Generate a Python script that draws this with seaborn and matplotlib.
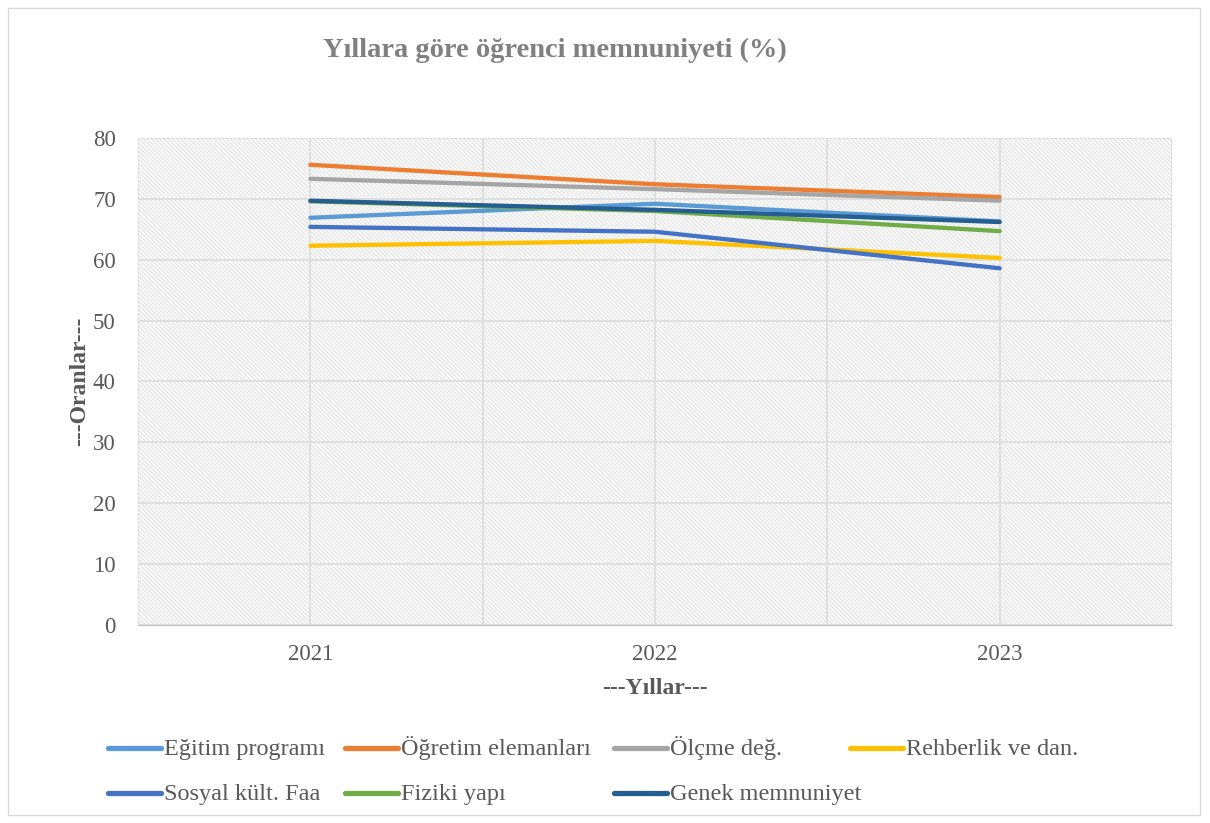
import pandas as pd
import matplotlib.pyplot as plt
import seaborn as sns
from matplotlib.patches import Rectangle
from matplotlib.lines import Line2D

# Data
years = [2021, 2022, 2023]
egitim_programi = [66.9, 69.2, 66.3]
ogretim_elemanlari = [75.6, 72.4, 70.3]
olcme_deg = [73.3, 71.6, 69.7]
rehberlik = [62.3, 63.1, 60.3]
sosyal_kult = [65.4, 64.6, 58.6]
fiziki_yapi = [69.6, 68.0, 64.7]
genel_memnuniyet = [69.7, 68.2, 66.2]

series_names = ['Eğitim programı', 'Öğretim elemanları', 'Ölçme değ.',
                'Rehberlik ve dan.', 'Sosyal kült. Faa', 'Fiziki yapı',
                'Genek memnuniyet']
series_values = [egitim_programi, ogretim_elemanlari, olcme_deg, rehberlik,
                 sosyal_kult, fiziki_yapi, genel_memnuniyet]
colors = ['#5B9BD5', '#ED7D31', '#A5A5A5', '#FFC000', '#4472C4', '#70AD47', '#255E91']

rows = []
for name, vals in zip(series_names, series_values):
    for y, v in zip(years, vals):
        rows.append({'Yil': y, 'Oran': v, 'Seri': name})
df = pd.DataFrame(rows)

sns.set_style('white')
plt.rcParams['font.family'] = ['Liberation Serif', 'DejaVu Serif']
plt.rcParams['hatch.linewidth'] = 0.9
plt.rcParams['hatch.color'] = '#e2e2e2'

text_col = '#595959'
W, H = 1210, 823
fig = plt.figure(figsize=(12.1, 8.23), dpi=100)
ax = fig.add_axes([138 / W, 1 - 625 / H, (1172 - 138) / W, (625 - 138) / H])

# hatched plot area background
ax.add_patch(Rectangle((0, 0), 1, 1, transform=ax.transAxes, facecolor='white',
                       hatch='\\' * 8, edgecolor='#e2e2e2', linewidth=0, zorder=0))

sns.lineplot(data=df, x='Yil', y='Oran', hue='Seri', hue_order=series_names,
             palette=colors, linewidth=3.1, ax=ax, legend=False, zorder=3)

ax.set_xlim(2020.5, 2023.5)
ax.set_ylim(0, 80)
ax.set_xticks(years)
ax.set_xticks([2020.5, 2021.5, 2022.5, 2023.5], minor=True)
ax.set_yticks(range(0, 81, 10))
ax.grid(True, which='both', color='#dedede', linewidth=1.3, zorder=1)
ax.set_axisbelow(True)
for s in ['top', 'right', 'left']:
    ax.spines[s].set_visible(False)
ax.spines['bottom'].set_color('#bfbfbf')
ax.tick_params(axis='both', which='both', length=0, labelsize=16.5, labelcolor=text_col)
ax.tick_params(axis='y', pad=16)
ax.tick_params(axis='x', pad=14)
ax.set_xlabel('')
ax.set_ylabel('')

fig.text(555 / W, 1 - 50 / H, 'Yıllara göre öğrenci memnuniyeti (%)', ha='center',
         va='center', fontsize=20.5, fontweight='bold', color='#808080')
fig.text(655 / W, 1 - 688 / H, '---Yıllar---', ha='center', va='center',
         fontsize=17, fontweight='bold', color=text_col)
fig.text(80 / W, 1 - 381 / H, '---Oranlar---', ha='center', va='center',
         rotation=90, fontsize=17, fontweight='bold', color=text_col)

# legend laid out on Excel's fixed grid: 4 columns, filled row by row
col_x = [108, 345, 614, 850]
row_y = [748, 793]
for i, (name, c) in enumerate(zip(series_names, colors)):
    x = col_x[i % 4]
    y = row_y[i // 4]
    fig.add_artist(Line2D([x / W, (x + 53) / W], [1 - y / H, 1 - y / H], color=c,
                          linewidth=3.8, solid_capstyle='round', transform=fig.transFigure))
    fig.text((x + 56) / W, 1 - (y + 7) / H, name, ha='left', va='baseline',
             fontsize=17.5, color=text_col)

# outer chart border
fig.add_artist(Rectangle((8 / W, 8 / H), 1 - 18 / W, 1 - 16 / H,
                         transform=fig.transFigure, fill=False, edgecolor='#d9d9d9', linewidth=1))

fig.savefig('out.png', dpi=100)
